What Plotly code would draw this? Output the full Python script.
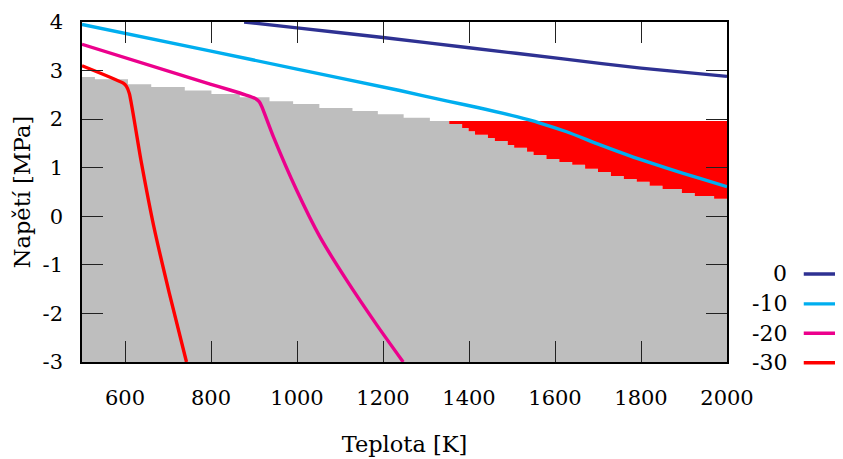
import plotly.graph_objects as go

# ---------------- data ----------------
# grey staircase: step start temperatures [K] and heights [MPa]
stair_T = [500, 530, 607, 661, 739, 801, 867, 936, 991, 1052, 1129, 1188, 1248, 1309,
           1354, 1384, 1399, 1414, 1444, 1460, 1490, 1505, 1535, 1550, 1580, 1610, 1640,
           1670, 1700, 1730, 1760, 1790, 1820, 1850, 1895, 1925, 1970]
stair_end_T = 2000
stair_h = [2.87, 2.82, 2.72, 2.66, 2.59, 2.52, 2.45, 2.37, 2.31, 2.23, 2.17, 2.10, 2.03, 1.96,
           1.90, 1.82, 1.75, 1.68, 1.61, 1.55, 1.47, 1.41, 1.33, 1.26, 1.18, 1.12, 1.06,
           0.98, 0.91, 0.83, 0.77, 0.71, 0.63, 0.56, 0.48, 0.42, 0.36]
red_start_T = 1354
red_top = 1.96

# curves
T_0 = [877, 1000, 1200, 1400, 1619, 1800, 2000]
S_0 = [4.00, 3.88, 3.68, 3.47, 3.24, 3.05, 2.88]

T_10 = [500, 800, 1000, 1239, 1350, 1420, 1511, 1565, 1627, 1705, 1782, 1860, 1937, 2000]
S_10 = [3.95, 3.40, 3.03, 2.59, 2.37, 2.24, 2.05, 1.92, 1.74, 1.47, 1.22, 0.99, 0.78, 0.61]

T_20 = [500, 798, 844, 880, 902, 912, 918, 945, 999, 1053, 1115, 1185, 1247]
S_20 = [3.54, 2.72, 2.60, 2.50, 2.43, 2.36, 2.26, 1.64, 0.54, -0.42, -1.31, -2.23, -3.00]

T_30 = [500, 596, 603, 610, 637, 667, 703, 743]
S_30 = [3.10, 2.74, 2.68, 2.53, 1.16, -0.21, -1.58, -3.00]

series_names = ["0", "-10", "-20", "-30"]
series_colors = ["#2e3192", "#00aeef", "#ec008c", "#ff0000"]

x_range = [500, 2000]
y_range = [-3, 4]
x_ticks = [600, 800, 1000, 1200, 1400, 1600, 1800, 2000]
x_tick_labels = ["600", "800", "1000", "1200", "1400", "1600", "1800", "2000"]
y_ticks = [-3, -2, -1, 0, 1, 2, 3, 4]
y_tick_labels = ["-3", "-2", "-1", "0", "1", "2", "3", "4"]

x_title = "Teplota [K]"
y_title = "Napětí [MPa]"

# ---------------- figure ----------------
FONT = "DejaVu Serif"
fig = go.Figure()

# grey staircase region
edges = stair_T + [stair_end_T]
gx, gy = [], []
for i, h in enumerate(stair_h):
    gx += [edges[i], edges[i + 1]]
    gy += [h, h]
gx += [stair_end_T, stair_T[0]]
gy += [y_range[0], y_range[0]]
fig.add_trace(go.Scatter(x=gx, y=gy, mode="lines", fill="toself",
                         fillcolor="#bebebe", line=dict(width=0),
                         hoverinfo="skip", showlegend=False))

# red region between staircase and red_top
rx, ry = [], []
for i, h in enumerate(stair_h):
    if stair_T[i] >= red_start_T:
        rx += [edges[i], edges[i + 1]]
        ry += [h, h]
rx += [stair_end_T, red_start_T]
ry += [red_top, red_top]
fig.add_trace(go.Scatter(x=rx, y=ry, mode="lines", fill="toself",
                         fillcolor="#ff0000", line=dict(width=0),
                         hoverinfo="skip", showlegend=False))

curves = [(T_0, S_0), (T_10, S_10), (T_20, S_20), (T_30, S_30)]
for (tx, sy), name, col in zip(curves, series_names, series_colors):
    fig.add_trace(go.Scatter(x=tx, y=sy, mode="lines", name=name,
                             line=dict(color=col, width=3.4, shape="spline",
                                       smoothing=0.6),
                             showlegend=False))

# legend built from annotations + line samples (text left, line right)
leg_y = [0.259, 0.171, 0.0845, -0.002]
for name, col, yy in zip(series_names, series_colors, leg_y):
    fig.add_annotation(x=1.096, y=yy, xref="paper", yref="paper", text=name,
                       showarrow=False, xanchor="right", yanchor="middle",
                       font=dict(family=FONT, size=22, color="black"))
    fig.add_shape(type="line", xref="paper", yref="paper",
                  x0=1.119, x1=1.177, y0=yy, y1=yy,
                  line=dict(color=col, width=3.4))

axis_common = dict(
    showline=True, linecolor="black", linewidth=1.5, mirror="ticks",
    ticks="inside", ticklen=21, tickwidth=1.3, tickcolor="#222222",
    showgrid=False, zeroline=False,
    tickfont=dict(family=FONT, size=21, color="black"),
    title_font=dict(family=FONT, size=22.5, color="black"),
)

fig.update_xaxes(range=x_range, tickvals=x_ticks, ticktext=x_tick_labels,
                 title_text=x_title, title_standoff=27, ticklabelstandoff=16,
                 **axis_common)
fig.update_yaxes(range=y_range, tickvals=y_ticks, ticktext=y_tick_labels,
                 title_text=y_title, title_standoff=6, ticklabelstandoff=13,
                 **axis_common)

# page body has an 8px margin, so the figure is shrunk by that amount
fig.update_layout(
    width=835, height=451,
    margin=dict(l=74, r=116, t=14, b=97, autoexpand=False),
    plot_bgcolor="white", paper_bgcolor="white",
    font=dict(family=FONT, size=21, color="black"),
)

fig.write_html("out.html")
